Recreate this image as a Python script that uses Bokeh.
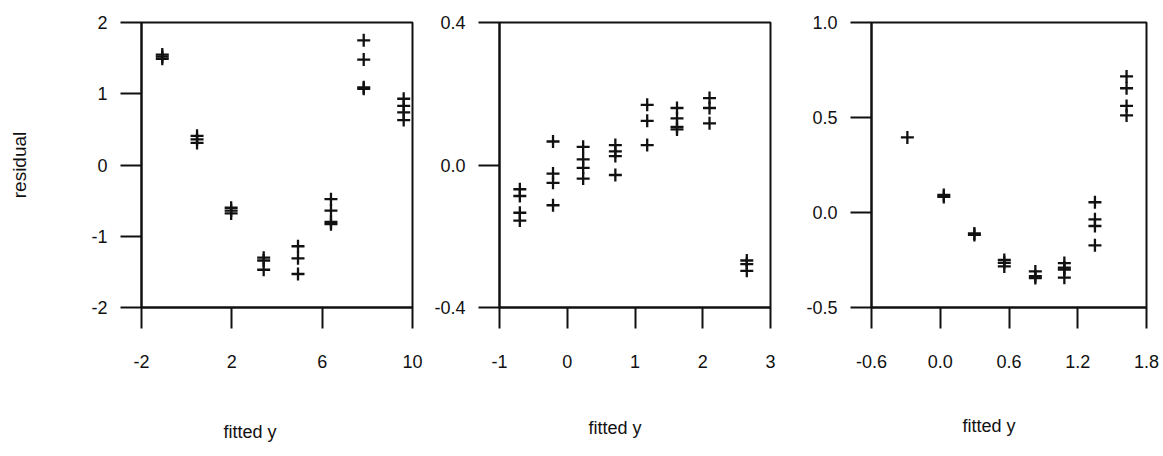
from bokeh.plotting import figure
from bokeh.layouts import row
from bokeh.models import Range1d, FixedTicker, NumeralTickFormatter, LinearAxis, Title
from bokeh.embed import file_html
from bokeh.resources import INLINE

# ---- data ----
fit1 = [-1.08, -1.08, -1.08, 0.46, 0.46, 0.46, 1.97, 1.97, 1.97,
        3.41, 3.41, 3.41, 4.93, 4.93, 4.93, 6.39, 6.39, 6.39, 6.39,
        7.84, 7.84, 7.84, 7.84, 9.61, 9.61, 9.61, 9.61]
res1 = [1.55, 1.52, 1.49, 0.41, 0.36, 0.31, -0.60, -0.64, -0.68,
        -1.30, -1.34, -1.47, -1.14, -1.31, -1.53, -0.48, -0.64, -0.80, -0.83,
        1.75, 1.48, 1.09, 1.07, 0.93, 0.83, 0.74, 0.63]

fit2 = [-0.70, -0.70, -0.70, -0.70, -0.21, -0.21, -0.21, -0.21,
        0.235, 0.235, 0.235, 0.235, 0.71, 0.71, 0.71, 0.71,
        1.18, 1.18, 1.18, 1.62, 1.62, 1.62, 1.62, 2.10, 2.10, 2.10,
        2.65, 2.65, 2.65]
res2 = [-0.068, -0.087, -0.134, -0.156, 0.066, -0.024, -0.050, -0.113,
        0.051, 0.016, -0.008, -0.038, 0.056, 0.038, 0.025, -0.028,
        0.169, 0.124, 0.056, 0.160, 0.131, 0.107, 0.100, 0.188, 0.160, 0.117,
        -0.268, -0.278, -0.297]

fit3 = [-0.287, 0.031, 0.031, 0.298, 0.298, 0.559, 0.559, 0.559,
        0.83, 0.83, 0.83, 1.083, 1.083, 1.083, 1.083,
        1.35, 1.35, 1.35, 1.35, 1.626, 1.626, 1.626, 1.626]
res3 = [0.395, 0.092, 0.082, -0.110, -0.118, -0.250, -0.265, -0.284,
        -0.310, -0.335, -0.345, -0.266, -0.290, -0.300, -0.343,
        0.054, -0.036, -0.071, -0.173, 0.716, 0.654, 0.561, 0.511]

xticks1 = [-2, 2, 6, 10]
yticks1 = [-2, -1, 0, 1, 2]
xticks2 = [-1, 0, 1, 2, 3]
yticks2 = [-0.4, 0.0, 0.4]
xticks3 = [-0.6, 0.0, 0.6, 1.2, 1.8]
yticks3 = [-0.5, 0.0, 0.5, 1.0]

x_title = "fitted y"
y_title = "residual"

FONT = "Liberation Sans"
INK = "#111111"
H = 456


def panel(xs, ys, xr, yr, xt, yt, xfmt, yfmt, width, bl, br, gap, xoff, stick,
          ylabel=None):
    p = figure(width=width, height=H, x_range=Range1d(*xr), y_range=Range1d(*yr),
               output_backend="svg", toolbar_location=None,
               min_border_left=bl, min_border_right=br, min_border_top=22,
               min_border_bottom=149)
    p.grid.visible = False
    p.outline_line_color = INK
    p.outline_line_width = 2
    p.outline_line_alpha = 1.0
    p.background_fill_color = "white"
    p.border_fill_color = "white"
    p.xaxis.ticker = FixedTicker(ticks=xt)
    p.yaxis.ticker = FixedTicker(ticks=yt)
    p.xaxis.formatter = NumeralTickFormatter(format=xfmt)
    p.yaxis.formatter = NumeralTickFormatter(format=yfmt)
    for ax in (p.xaxis[0], p.yaxis[0]):
        ax.axis_line_color = INK
        ax.axis_line_width = 2
        ax.major_tick_line_color = INK
        ax.major_tick_line_width = 2
        ax.major_tick_out = 21
        ax.major_tick_in = 0
        ax.minor_tick_line_color = None
        ax.major_label_text_font = FONT
        ax.major_label_text_font_size = "18px"
        ax.major_label_text_color = INK
        ax.axis_label_text_font = FONT
        ax.axis_label_text_font_style = "normal"
        ax.axis_label_text_color = INK
    p.xaxis.major_label_standoff = 26
    p.yaxis.major_label_standoff = 13
    # invisible spacer below the x axis, then the x title
    spacer = LinearAxis(ticker=FixedTicker(ticks=[stick]), axis_line_color=None,
                        major_tick_line_color="white", major_tick_line_width=1,
                        minor_tick_line_color=None,
                        major_tick_out=gap, major_tick_in=0, major_label_standoff=0,
                        major_label_overrides={stick: ""},
                        major_label_text_color="white",
                        major_label_text_font_size="1px")
    p.add_layout(spacer, "below")
    p.add_layout(Title(text=x_title, align="left", offset=xoff, standoff=0,
                       vertical_align="middle", text_font=FONT, text_font_size="18px",
                       text_font_style="normal", text_color=INK), "below")
    if ylabel:
        p.yaxis.axis_label = ylabel
        p.yaxis.axis_label_text_font_size = "19px"
        p.yaxis.axis_label_standoff = 58
    p.scatter(xs, ys, marker="cross", size=13, line_width=2.3, line_color=INK)
    return p


f1 = panel(fit1, res1, (-2, 10), (-2, 2), xticks1, yticks1, "0", "0",
           427, 141, 15, 50, 82, 2, ylabel=y_title)
f2 = panel(fit2, res2, (-1, 3), (-0.4, 0.4), xticks2, yticks2, "0", "0.0",
           370, 72, 27, 46, 89, 0)
f3 = panel(fit3, res3, (-0.6, 1.8), (-0.5, 1.0), xticks3, yticks3, "0.0", "0.0",
           366, 74, 17, 44, 91, 0)

layout = row(f1, f2, f3)
open("out.html", "w").write(file_html(layout, INLINE))
